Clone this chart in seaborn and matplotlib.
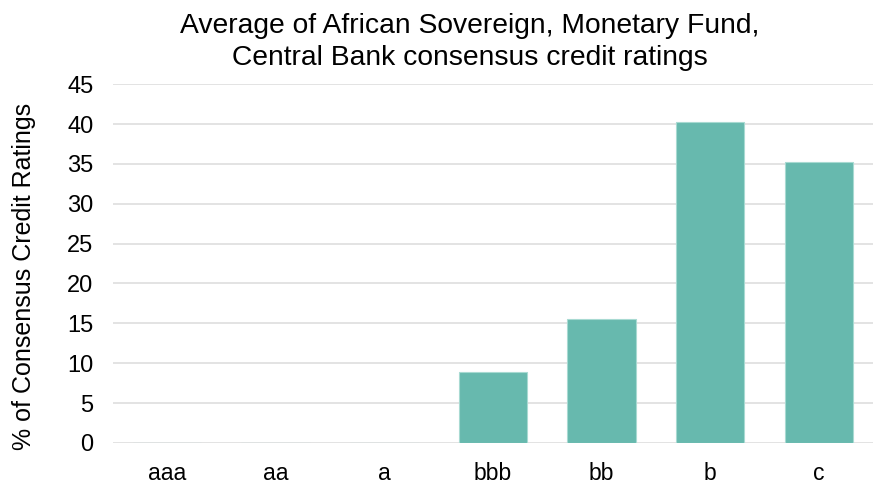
import matplotlib
matplotlib.use("Agg")
import matplotlib.pyplot as plt
import seaborn as sns
import pandas as pd

categories = ["aaa", "aa", "a", "bbb", "bb", "b", "c"]
values = [0, 0, 0, 8.9, 15.6, 40.3, 35.2]
yticks = [0, 5, 10, 15, 20, 25, 30, 35, 40, 45]

sns.set_theme(style="white")
plt.rcParams["font.family"] = ["Liberation Sans", "DejaVu Sans"]

df = pd.DataFrame({"rating": categories, "pct": values})

fig = plt.figure(figsize=(8.74, 4.84), dpi=100)
ax = fig.add_axes([0.129, 0.085, 0.870, 0.741])
sns.barplot(data=df, x="rating", y="pct", order=categories, color="#67b9ae",
            saturation=1, width=0.63, edgecolor="#a8dad2", linewidth=0.8, ax=ax, zorder=3)
ax.set_ylim(0, 45)
ax.set_yticks(yticks)
ax.set_xlim(-0.5, len(categories) - 0.5)
ax.grid(axis="y", color="#e0e0e0", linewidth=1.3, zorder=0)
ax.set_axisbelow(True)
for s in ax.spines.values():
    s.set_visible(False)
ax.tick_params(axis="both", length=0, colors="black")
ax.tick_params(axis="x", pad=14, labelsize=16.5)
ax.tick_params(axis="y", pad=14, labelsize=17)
ax.set_xlabel("")
ax.set_ylabel("% of Consensus Credit Ratings", fontsize=18, color="black")
ax.yaxis.set_label_coords(-0.101, 0.465)
ax.set_title("Average of African Sovereign, Monetary Fund,\nCentral Bank consensus credit ratings",
             fontsize=20.3, color="black", pad=14, linespacing=1.3, x=0.47)
fig.savefig("out.png", dpi=100)
